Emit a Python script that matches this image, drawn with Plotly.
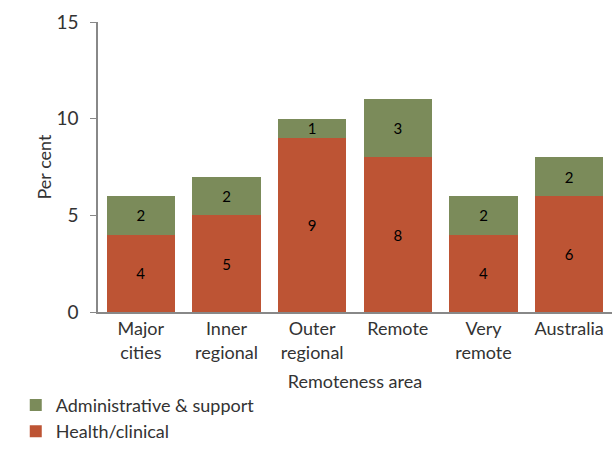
import plotly.graph_objects as go

# データ
categories = ["Major<br>cities", "Inner<br>regional", "Outer<br>regional", "Remote", "Very<br>remote", "Australia"]
health_clinical = [4, 5, 9, 8, 4, 6]
admin_support = [2, 2, 1, 3, 2, 2]

green = "#7b8b5a"
red = "#bd5434"
font_family = "Lato, Open Sans, sans-serif"

fig = go.Figure()
fig.add_trace(go.Bar(
    x=categories, y=health_clinical, name="Health/clinical",
    marker=dict(color=red, line=dict(width=0)),
    text=health_clinical, textposition="inside", insidetextanchor="middle",
    textangle=0, constraintext="none",
    textfont=dict(color="black", size=15, family=font_family),
))
fig.add_trace(go.Bar(
    x=categories, y=admin_support, name="Administrative & support",
    marker=dict(color=green, line=dict(width=0)),
    text=admin_support, textposition="inside", insidetextanchor="middle",
    textangle=0, constraintext="none",
    textfont=dict(color="black", size=15, family=font_family),
))

fig.update_layout(
    barmode="stack",
    bargap=0.2,
    width=612, height=450,
    margin=dict(l=98, r=0, t=22, b=138),
    plot_bgcolor="white", paper_bgcolor="white",
    font=dict(family=font_family, size=18, color="#333333"),
    legend=dict(
        orientation="v", traceorder="reversed",
        x=-0.16, xanchor="left", y=-0.475, yanchor="bottom",
        font=dict(size=18, color="#333333"),
        itemwidth=30, tracegroupgap=0,
    ),
)
fig.update_xaxes(
    title=dict(text="Remoteness area", standoff=14, font=dict(size=18)),
    automargin=False, tickangle=0,
    showline=True, linecolor="#888888", linewidth=1.5,
    ticks="", showgrid=False,
)
fig.update_yaxes(
    title=dict(text="Per cent", standoff=0, font=dict(size=18)),
    automargin=False,
    range=[0, 15], tickvals=[0, 5, 10, 15],
    tickfont=dict(size=19), ticklabelstandoff=8,
    showline=True, linecolor="#888888", linewidth=1.5,
    ticks="outside", ticklen=6, tickcolor="#888888",
    showgrid=False, zeroline=False,
)

# ページの余白をなくす
fig.write_html("out.html", config={"displayModeBar": False},
               post_script="document.body.style.margin='0';")
